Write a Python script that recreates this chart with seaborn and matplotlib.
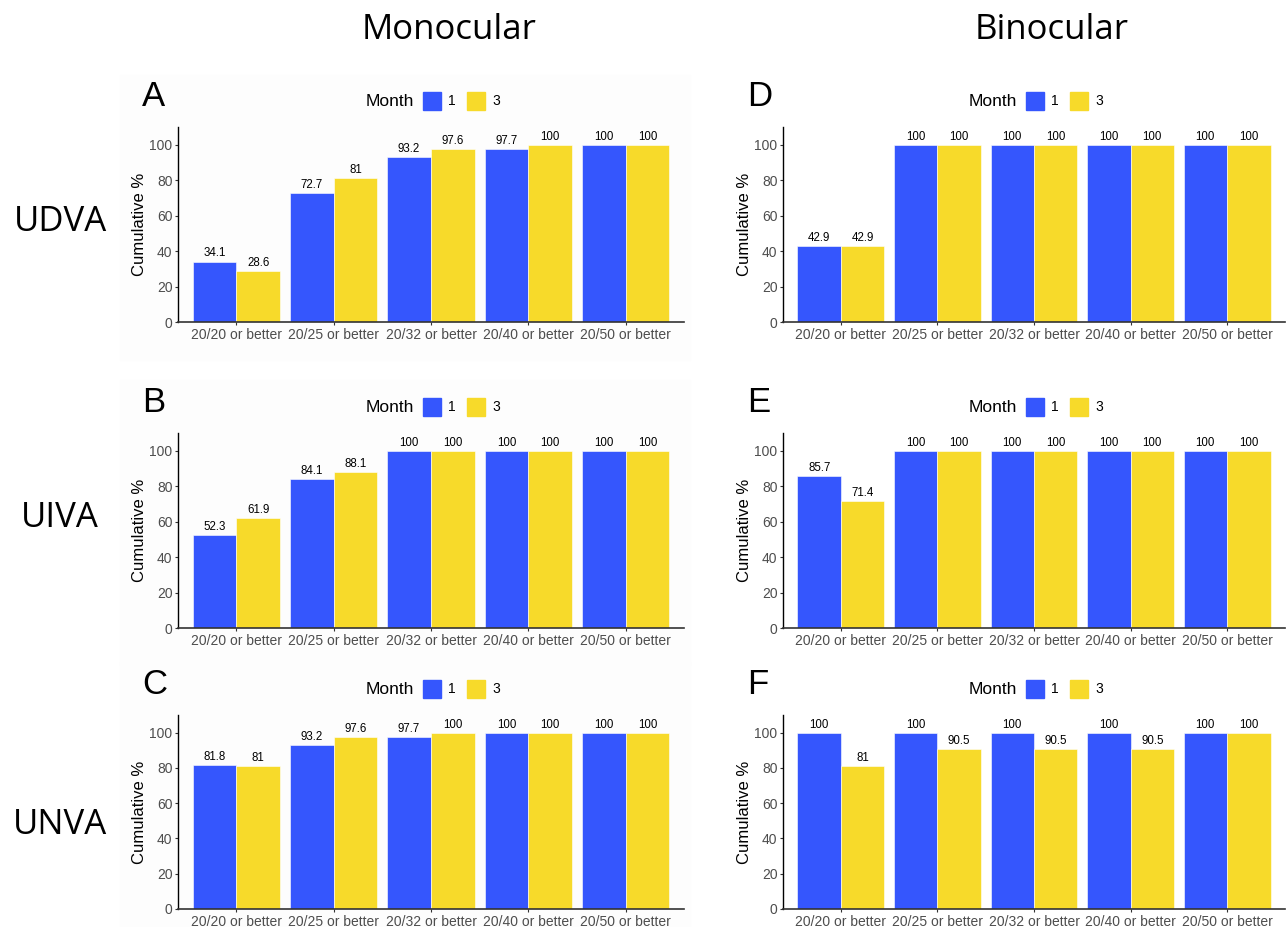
import matplotlib
matplotlib.use("Agg")
import matplotlib.pyplot as plt
from matplotlib.patches import Rectangle
import seaborn as sns
import pandas as pd

categories = ["20/20 or better", "20/25 or better", "20/32 or better",
              "20/40 or better", "20/50 or better"]
months = ["1", "3"]

A_m1 = [34.1, 72.7, 93.2, 97.7, 100]
A_m3 = [28.6, 81, 97.6, 100, 100]
B_m1 = [52.3, 84.1, 100, 100, 100]
B_m3 = [61.9, 88.1, 100, 100, 100]
C_m1 = [81.8, 93.2, 97.7, 100, 100]
C_m3 = [81, 97.6, 100, 100, 100]
D_m1 = [42.9, 100, 100, 100, 100]
D_m3 = [42.9, 100, 100, 100, 100]
E_m1 = [85.7, 100, 100, 100, 100]
E_m3 = [71.4, 100, 100, 100, 100]
F_m1 = [100, 100, 100, 100, 100]
F_m3 = [81, 90.5, 90.5, 90.5, 100]

panels = {"A": (A_m1, A_m3), "B": (B_m1, B_m3), "C": (C_m1, C_m3),
          "D": (D_m1, D_m3), "E": (E_m1, E_m3), "F": (F_m1, F_m3)}
col_titles = ["Monocular", "Binocular"]
row_titles = ["UDVA", "UIVA", "UNVA"]

BLUE = "#3556FD"
YELLOW = "#F7DA2A"
palette = {"1": BLUE, "3": YELLOW}

sns.set_theme(style="white")
plt.rcParams["font.family"] = ["Liberation Sans", "DejaVu Sans"]

W, H = 1287, 927
fig = plt.figure(figsize=(W / 100, H / 100), dpi=100)

def fx(x):
    return x / W

def fy(y):
    return 1 - y / H

# very light grey panel backgrounds for the left column
for top in (75, 380, 662):
    fig.patches.append(Rectangle((fx(120), fy(top + 285)), fx(570), 285 / H,
                                 transform=fig.transFigure, color="#fdfdfd",
                                 zorder=-5))

col_left = [178, 783]
col_right = [684, 1285]
row_top = [127, 433, 715]
row_bot = [322, 628, 909]
letters = [["A", "B", "C"], ["D", "E", "F"]]

for c in range(2):
    for r in range(3):
        key = letters[c][r]
        m1, m3 = panels[key]
        df = pd.DataFrame({
            "cat": categories * 2,
            "Month": ["1"] * 5 + ["3"] * 5,
            "value": list(m1) + list(m3),
        })
        l, rr, t, b = col_left[c], col_right[c], row_top[r], row_bot[r]
        ax = fig.add_axes([fx(l), fy(b), (rr - l) / W, (b - t) / H])
        ax.set_zorder(2)
        ax.set_facecolor("none")
        sns.barplot(data=df, x="cat", y="value", hue="Month", order=categories,
                    hue_order=months, palette=palette, width=0.9, ax=ax,
                    saturation=1, edgecolor="white", linewidth=0.4, legend=False)
        for cont in ax.containers:
            ax.bar_label(cont, labels=[f"{v:g}" for v in cont.datavalues],
                         fontsize=8.3, padding=1.5, color="black")
        ax.set_ylim(0, 110)
        ax.set_xlim(-0.6, 4.6)
        ax.set_yticks([0, 20, 40, 60, 80, 100])
        ax.set_xlabel("")
        ax.set_ylabel("Cumulative %", fontsize=12, color="black", labelpad=2)
        ax.tick_params(axis="both", labelsize=10.0, labelcolor="#4d4d4d",
                       length=2.5, width=0.8, color="#333333", bottom=True, left=True, pad=1.5)
        for s in ("top", "right"):
            ax.spines[s].set_visible(False)
        ax.spines["left"].set_color("black")
        ax.spines["left"].set_linewidth(1.0)
        ax.spines["bottom"].set_color("#333333")
        ax.spines["bottom"].set_linewidth(1.2)

        # panel letter
        fig.text(fx(l - 36), fy(t - 30), key, fontsize=25, ha="left", va="center",
                 color="black")
        # legend
        cx = (l + rr) / 2
        ly = t - 26
        fig.text(fx(cx - 65), fy(ly), "Month", fontsize=12.5, ha="left", va="center",
                 color="black")
        for i, (m, col) in enumerate(zip(months, [BLUE, YELLOW])):
            x0 = cx - 8 + i * 44
            fig.patches.append(Rectangle((fx(x0), fy(ly + 9)), 18 / W, 18 / H,
                                         transform=fig.transFigure, color=col))
            fig.text(fx(x0 + 25), fy(ly), m, fontsize=10, ha="left", va="center",
                     color="black")

for c, title in enumerate(col_titles):
    fig.text(fx((col_left[c] + col_right[c]) / 2 + 18), fy(30), title,
             fontsize=25, ha="center", va="center", color="black",
             family=["Open Sans", "DejaVu Sans"])
for r, title in enumerate(row_titles):
    fig.text(fx(60), fy([222, 518, 825][r]), title, fontsize=25, ha="center",
             va="center", color="black", family=["Open Sans", "DejaVu Sans"])

fig.savefig("out.png", dpi=100, facecolor="white")
